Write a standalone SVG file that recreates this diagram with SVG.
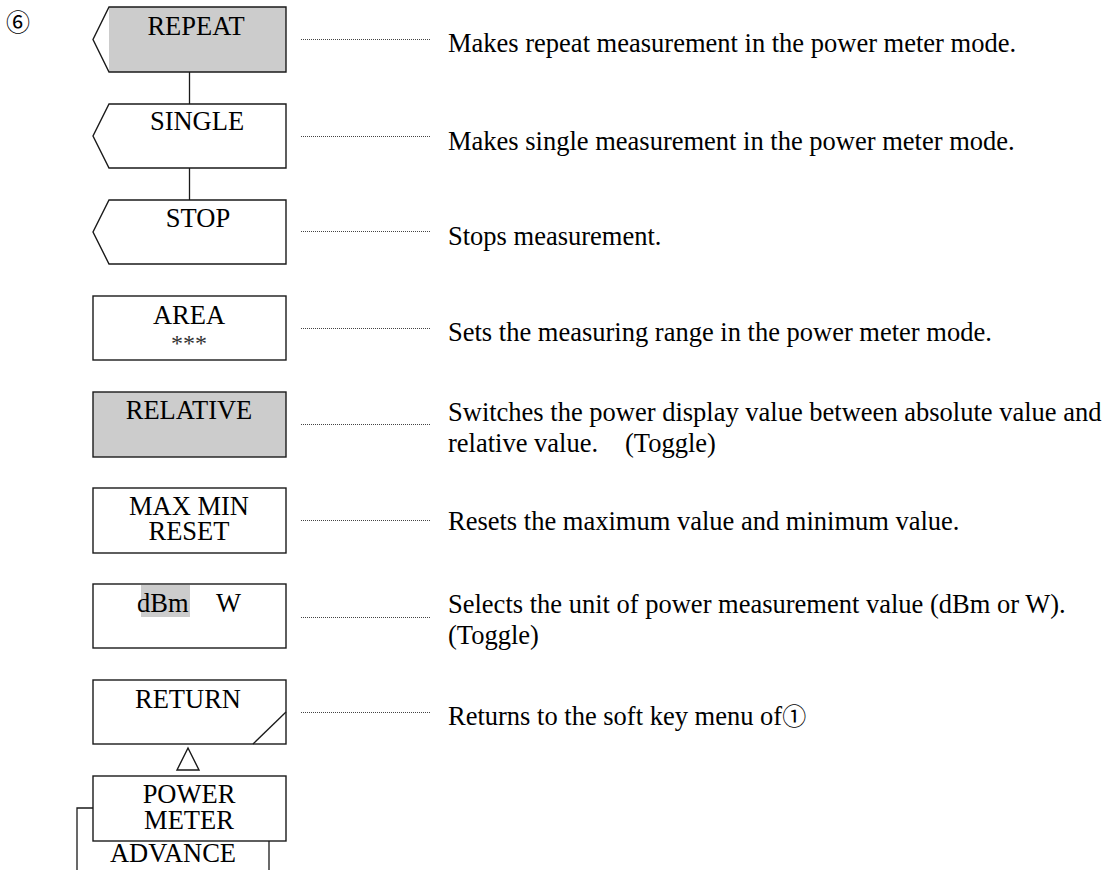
<svg xmlns="http://www.w3.org/2000/svg" width="1113" height="870" viewBox="0 0 1113 870">
<style>
.bg{fill:#ffffff}
.box{fill:#ffffff;stroke:#1a1a1a;stroke-width:1.4}
.gray{fill:#cccccc}
.outline{fill:none;stroke:#1a1a1a;stroke-width:1.4}
.line{fill:none;stroke:#1a1a1a;stroke-width:1.3}
.dot{fill:none;stroke:#444;stroke-width:1;stroke-dasharray:1 1}
.t{font-family:"Liberation Serif","Times New Roman","Noto Sans CJK JP",serif;font-size:26.5px;fill:#000}
.c{text-anchor:middle}
.cjk{font-family:"Noto Sans CJK JP",sans-serif;font-size:24px}
.ast{font-family:"Liberation Serif","Times New Roman",serif;font-size:24px;fill:#333;text-anchor:middle}
</style>
<rect class="bg" x="0" y="0" width="1113" height="870"/>
<text class="cjk" x="6" y="31">⑥</text>

<g id="connectors">
  <line class="line" x1="189.5" y1="72" x2="189.5" y2="104"/>
  <line class="line" x1="189.5" y1="168" x2="189.5" y2="200"/>
  <line class="dot" x1="301" y1="39.5" x2="430" y2="39.5"/>
  <line class="dot" x1="301" y1="136.5" x2="430" y2="136.5"/>
  <line class="dot" x1="301" y1="231.5" x2="430" y2="231.5"/>
  <line class="dot" x1="301" y1="328.5" x2="430" y2="328.5"/>
  <line class="dot" x1="301" y1="424.5" x2="430" y2="424.5"/>
  <line class="dot" x1="301" y1="520.5" x2="430" y2="520.5"/>
  <line class="dot" x1="301" y1="617.5" x2="430" y2="617.5"/>
  <line class="dot" x1="301" y1="712.5" x2="430" y2="712.5"/>
  <polygon class="outline" points="188,748 177,770 199,770"/>
</g>

<g id="repeat">
  <rect class="gray" x="109" y="7" width="177" height="65"/>
  <polygon class="outline" points="109,7 286,7 286,72 109,72 93,39.5"/>
  <text class="t c" x="196" y="35">REPEAT</text>
  <text class="t" x="448" y="52">Makes repeat measurement in the power meter mode.</text>
</g>

<g id="single">
  <polygon class="box" points="109,104 286,104 286,168 109,168 93,136"/>
  <text class="t c" x="197" y="130">SINGLE</text>
  <text class="t" x="448" y="150">Makes single measurement in the power meter mode.</text>
</g>

<g id="stop">
  <polygon class="box" points="109,200 286,200 286,264 109,264 93,232"/>
  <text class="t c" x="198" y="227">STOP</text>
  <text class="t" x="448" y="245">Stops measurement.</text>
</g>

<g id="area">
  <rect class="box" x="93" y="296" width="193" height="64"/>
  <text class="t c" x="189" y="324">AREA</text>
  <text class="ast" x="189" y="351">***</text>
  <text class="t" x="448" y="341">Sets the measuring range in the power meter mode.</text>
</g>

<g id="relative">
  <rect class="box" x="93" y="392" width="193" height="65" style="fill:#cccccc"/>
  <text class="t c" x="189" y="419">RELATIVE</text>
  <text class="t" x="448" y="421">Switches the power display value between absolute value and</text>
  <text class="t" x="448" y="452">relative value.<tspan x="625">(Toggle)</tspan></text>
</g>

<g id="maxmin">
  <rect class="box" x="93" y="488" width="193" height="65"/>
  <text class="t c" x="189" y="515">MAX MIN</text>
  <text class="t c" x="189" y="540">RESET</text>
  <text class="t" x="448" y="530">Resets the maximum value and minimum value.</text>
</g>

<g id="unit">
  <rect class="box" x="93" y="584" width="193" height="64"/>
  <rect class="gray" x="141" y="585" width="49" height="32"/>
  <text class="t" x="137" y="612">dBm</text>
  <text class="t" x="216" y="612">W</text>
  <text class="t" x="448" y="613">Selects the unit of power measurement value (dBm or W).</text>
  <text class="t" x="448" y="644">(Toggle)</text>
</g>

<g id="return">
  <rect class="box" x="93" y="680" width="193" height="64"/>
  <line class="line" x1="286" y1="712" x2="253" y2="744"/>
  <text class="t c" x="188" y="708">RETURN</text>
  <text class="t" x="448" y="725">Returns to the soft key menu of<tspan class="cjk">①</tspan></text>
</g>

<g id="advance">
  <polyline class="line" points="93,808 77,808 77,872"/>
  <line class="line" x1="269" y1="841" x2="269" y2="872"/>
  <text class="t c" x="173" y="862">ADVANCE</text>
</g>

<g id="powermeter">
  <rect class="box" x="93" y="776" width="193" height="65"/>
  <text class="t c" x="189" y="803">POWER</text>
  <text class="t c" x="189" y="829">METER</text>
</g>
</svg>
